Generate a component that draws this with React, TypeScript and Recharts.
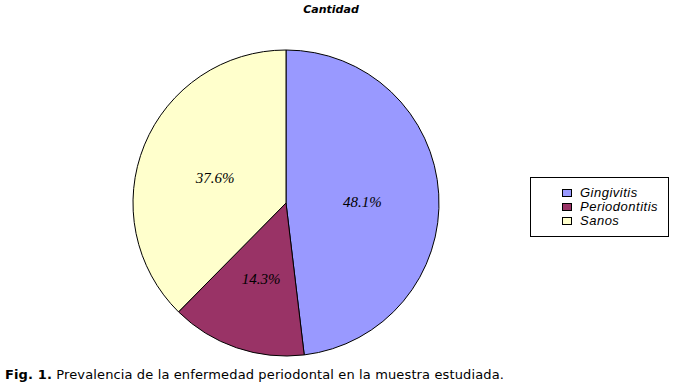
import { PieChart, Pie, Cell, Legend } from "recharts";

const categories = ["Gingivitis", "Periodontitis", "Sanos"];
const values = [48.1, 14.3, 37.6];
const colors = ["#9999FF", "#993366", "#FFFFCC"];

const RADIAN = Math.PI / 180;

const renderLabel = (props: any) => {
	const { cx, cy, midAngle, outerRadius, value } = props;
	const r = outerRadius * 0.5;
	const x = cx + r * Math.cos(-midAngle * RADIAN);
	const y = cy + r * Math.sin(-midAngle * RADIAN) + 4;
	return (
		<text
			x={x}
			y={y}
			textAnchor="middle"
			dominantBaseline="central"
			fill="#000"
			fontFamily="'Liberation Serif', serif"
			fontStyle="italic"
			fontSize={15}
		>
			{value.toFixed(1) + "%"}
		</text>
	);
};

const LegendBox = () => (
	<div
		style={{
			width: 139,
			height: 60,
			border: "1px solid #000",
			background: "#fff",
			boxSizing: "border-box",
			paddingTop: 8,
			paddingLeft: 31,
		}}
	>
		{categories.map((c, i) => (
			<div
				key={c}
				style={{ display: "flex", alignItems: "center", height: 14 }}
			>
				<span
					style={{
						display: "inline-block",
						width: 8,
						height: 6,
						background: colors[i],
						border: "1px solid #000",
						marginRight: 8,
					}}
				/>
				<span
					style={{
						fontFamily: "'Liberation Sans', Arial, sans-serif",
						fontStyle: "italic",
						fontSize: 13,
						letterSpacing: 0.5,
						color: "#000",
						lineHeight: "14px",
					}}
				>
					{c}
				</span>
			</div>
		))}
	</div>
);

export default function App() {
	const data = categories.map((c, i) => ({ name: c, value: values[i] }));
	return (
		<div
			style={{
				position: "absolute",
				left: 0,
				top: 0,
				width: 676,
				height: 388,
				background: "#fff",
			}}
		>
			<div
				style={{
					position: "absolute",
					left: 0,
					width: 662,
					top: 3,
					textAlign: "center",
					fontFamily: "'DejaVu Sans', Verdana, sans-serif",
					fontWeight: "bold",
					fontStyle: "italic",
					fontSize: 11,
				}}
			>
				Cantidad
			</div>
			<PieChart
				width={676}
				height={388}
				margin={{ top: 0, right: 0, bottom: 0, left: 0 }}
			>
				<Pie
					data={data}
					dataKey="value"
					nameKey="name"
					cx={286}
					cy={203}
					outerRadius={153}
					startAngle={90}
					endAngle={-270}
					stroke="#000"
					strokeWidth={1}
					label={renderLabel}
					labelLine={false}
					isAnimationActive={false}
				>
					{data.map((d, i) => (
						<Cell key={d.name} fill={colors[i]} />
					))}
				</Pie>
				<Legend
					content={() => <LegendBox />}
					wrapperStyle={{ position: "absolute", left: 530, top: 177, width: 139 }}
				/>
			</PieChart>
			<div
				style={{
					position: "absolute",
					left: 5,
					top: 367,
					fontFamily: "'DejaVu Sans', Verdana, sans-serif",
					fontSize: 13,
					letterSpacing: 0.13,
					color: "#000",
					whiteSpace: "nowrap",
				}}
			>
				<b>Fig. 1.</b> Prevalencia de la enfermedad periodontal en la muestra
				estudiada.
			</div>
		</div>
	);
}
